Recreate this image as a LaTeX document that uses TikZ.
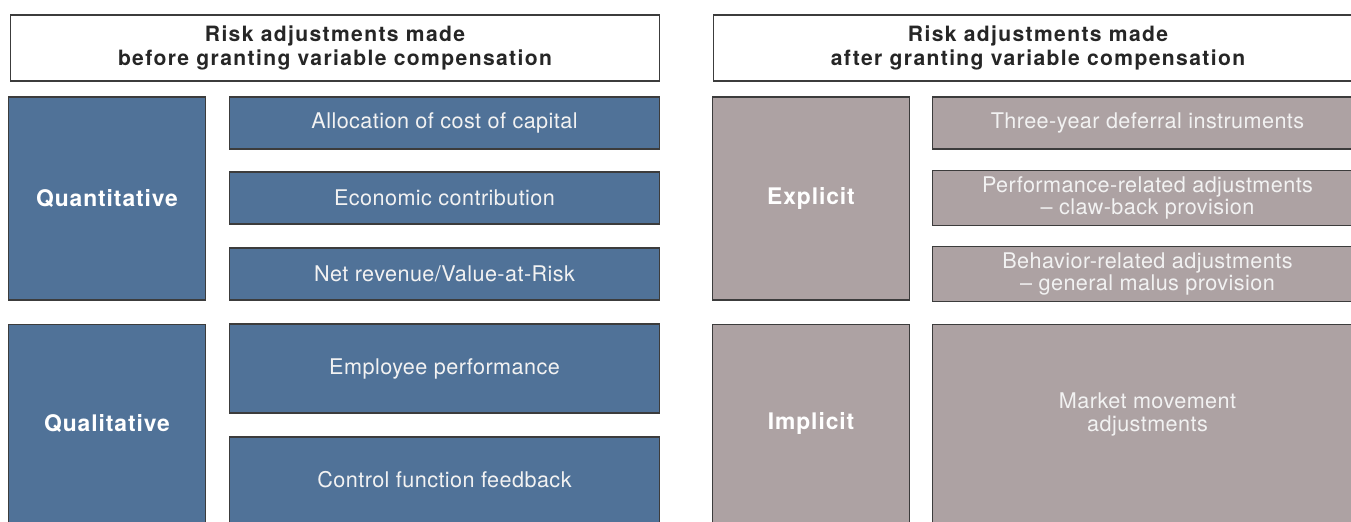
\documentclass[tikz,border=0pt]{standalone}
\usepackage{fontspec}
\setmainfont{TeX Gyre Heros}
\newfontfamily\headfont{TeX Gyre Heros}[LetterSpace=6.5]
\newfontfamily\catfont{TeX Gyre Heros}[LetterSpace=4]
\newfontfamily\itemfont{TeX Gyre Heros}[LetterSpace=2]
\usepackage{tikz}

\definecolor{riskblue}{RGB}{80,114,152}
\definecolor{riskgrey}{RGB}{173,162,163}
\definecolor{riskline}{RGB}{60,60,60}

\begin{document}
\begin{tikzpicture}[x=0.02cm, y=-0.02cm,
    headbox/.style={draw=riskline, fill=white, text=black!85, font=\headfont\bfseries\fontsize{12}{13.6}\selectfont, align=center, line width=0.6pt, minimum width=13cm, minimum height=1.32cm},
    catbox/.style={draw=riskline, text=white, font=\catfont\bfseries\fontsize{13}{15}\selectfont, line width=0.6pt, minimum width=3.94cm},
    itembox/.style={draw=riskline, text=white!95!black, font=\itemfont\fontsize{12.3}{13}\selectfont, align=center, line width=0.6pt, minimum width=8.62cm}]
    % Page size
    \useasboundingbox (0,0) rectangle (1351,521);

    % Headers
    \node[headbox] (headL) at (335,48) {Risk adjustments made\\before granting variable compensation};
    \node[headbox] (headR) at (1038,48) {Risk adjustments made\\after granting variable compensation};

    % Before granting: categories
    \node[catbox, fill=riskblue, minimum height=4.06cm] (quant) at (107,198.5) {Quantitative};
    \node[catbox, fill=riskblue, minimum height=3.98cm] (qual) at (107,423.5) {Qualitative};

    % Before granting: items
    \node[itembox, fill=riskblue, minimum height=1.04cm] (alloc) at (444.5,123) {Allocation of cost of capital};
    \node[itembox, fill=riskblue, minimum height=1.04cm] (econ) at (444.5,198) {Economic contribution};
    \node[itembox, fill=riskblue, minimum height=1.04cm] (netrev) at (444.5,274) {Net revenue/Value-at-Risk};
    \node[itembox, fill=riskblue, minimum height=1.78cm] (employee) at (444.5,368.5) {Employee performance};
    \node[itembox, fill=riskblue, minimum height=1.72cm] (control) at (444.5,480) {Control function feedback};

    % After granting: categories
    \node[catbox, fill=riskgrey, minimum height=4.06cm] (explicit) at (811,198.5) {Explicit};
    \node[catbox, fill=riskgrey, minimum height=3.98cm] (implicit) at (811,423.5) {Implicit};

    % After granting: items
    \node[itembox, fill=riskgrey, minimum height=1.04cm] (deferral) at (1147.5,123) {Three-year deferral instruments};
    \node[itembox, fill=riskgrey, minimum height=1.04cm] (clawback) at (1147.5,198) {Performance-related adjustments\\\textendash{} claw-back provision};
    \node[itembox, fill=riskgrey, minimum height=1.04cm] (malus) at (1147.5,274) {Behavior-related adjustments\\\textendash{} general malus provision};
    \node[itembox, fill=riskgrey, minimum height=3.98cm] (market) at (1147.5,423.5) {Market movement\\adjustments\\[0pt]};
\end{tikzpicture}
\end{document}
